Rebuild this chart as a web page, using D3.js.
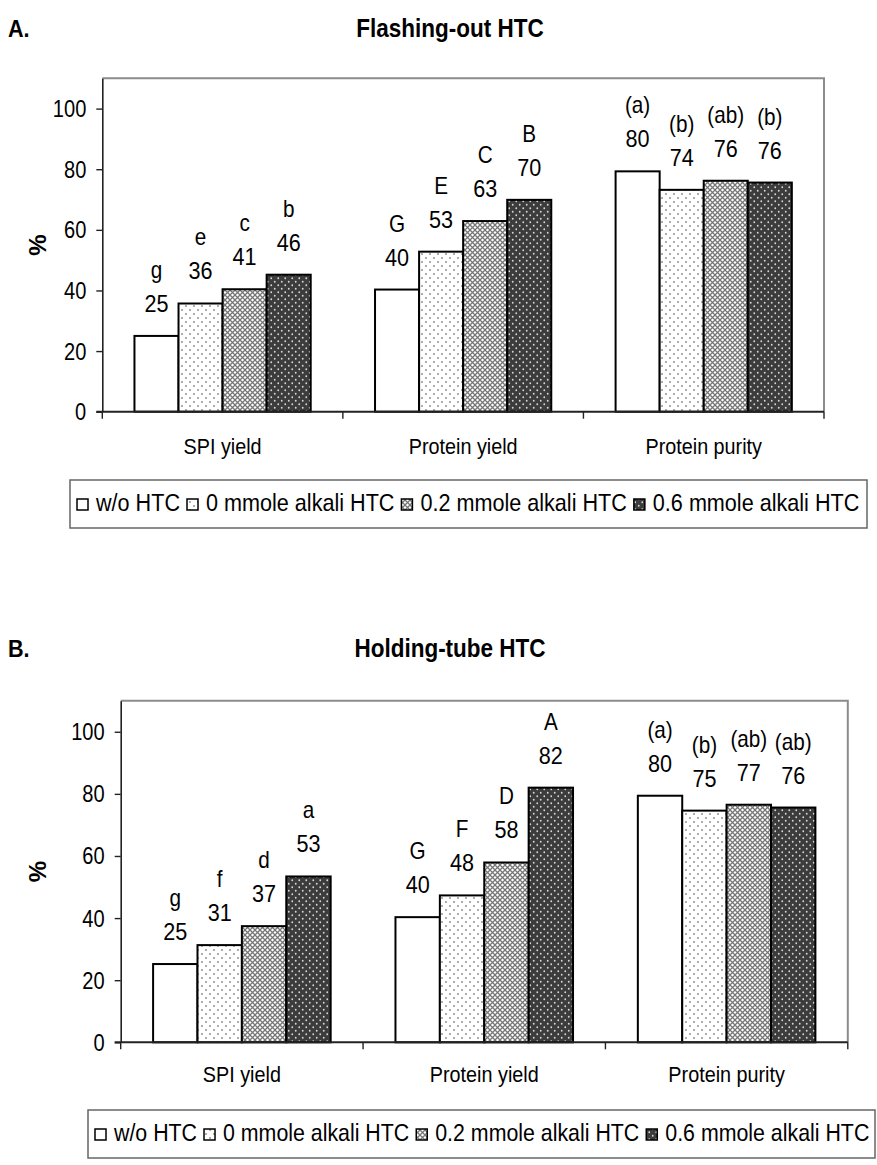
<!DOCTYPE html>
<html><head><meta charset="utf-8">
<script src="https://cdn.jsdelivr.net/npm/d3@7"></script>
<style>
html,body{margin:0;padding:0;background:#fff;}
svg text{font-family:"Liberation Sans",Arial,sans-serif;fill:#000;}
</style></head>
<body><svg id="chart" width="877" height="1165"></svg>
<script>
// ---------- data ----------
const categories = ["SPI yield", "Protein yield", "Protein purity"];
const seriesNames = ["w/o HTC", "0 mmole alkali HTC", "0.2 mmole alkali HTC", "0.6 mmole alkali HTC"];
const yTicks = [0, 20, 40, 60, 80, 100];

// Chart A: Flashing-out HTC
const aWo   = [25.0, 40.3, 79.3];
const aM0   = [35.7, 52.8, 73.2];
const aM02  = [40.4, 62.9, 76.2];
const aM06  = [45.2, 69.9, 75.6];
const aWoLab  = ["25", "40", "80"];
const aM0Lab  = ["36", "53", "74"];
const aM02Lab = ["41", "63", "76"];
const aM06Lab = ["46", "70", "76"];
const aWoSig  = ["g", "G", "(a)"];
const aM0Sig  = ["e", "E", "(b)"];
const aM02Sig = ["c", "C", "(ab)"];
const aM06Sig = ["b", "B", "(b)"];

// Chart B: Holding-tube HTC
const bWo   = [25.2, 40.3, 79.4];
const bM0   = [31.3, 47.3, 74.6];
const bM02  = [37.4, 57.9, 76.5];
const bM06  = [53.4, 82.0, 75.6];
const bWoLab  = ["25", "40", "80"];
const bM0Lab  = ["31", "48", "75"];
const bM02Lab = ["37", "58", "77"];
const bM06Lab = ["53", "82", "76"];
const bWoSig  = ["g", "G", "(a)"];
const bM0Sig  = ["f", "F", "(b)"];
const bM02Sig = ["d", "D", "(ab)"];
const bM06Sig = ["a", "A", "(ab)"];

// ---------- drawing ----------
const svg = d3.select("#chart");
const defs = svg.append("defs");
const SX = 0.9; // horizontal compression of the lettering

function dotPattern(id, bg, dot, size, r) {
  const p = defs.append("pattern").attr("id", id).attr("patternUnits", "userSpaceOnUse")
    .attr("width", size).attr("height", size);
  p.append("rect").attr("width", size).attr("height", size).attr("fill", bg);
  p.append("circle").attr("cx", size * 0.25).attr("cy", size * 0.25).attr("r", r).attr("fill", dot);
  p.append("circle").attr("cx", size * 0.75).attr("cy", size * 0.75).attr("r", r).attr("fill", dot);
}
dotPattern("pDots", "#ffffff", "#8a8a8a", 8, 0.95);
dotPattern("pDark", "#3c3c3c", "#d8d8d8", 7, 0.9);
(function () {
  const s = 5;
  const p = defs.append("pattern").attr("id", "pCross").attr("patternUnits", "userSpaceOnUse")
    .attr("width", s).attr("height", s);
  p.append("rect").attr("width", s).attr("height", s).attr("fill", "#ffffff");
  p.append("path").attr("d", `M0,0L${s},${s}M${s},0L0,${s}`).attr("stroke", "#777").attr("stroke-width", 1.3);
})();
const fills = ["#ffffff", "url(#pDots)", "url(#pCross)", "url(#pDark)"];

// place a text at (x,y) with horizontal compression
function place(sel, fx, fy, sx) {
  return sel.attr("x", 0).attr("y", 0)
    .attr("transform", (d, i) => `translate(${typeof fx === "function" ? fx(d, i) : fx},${typeof fy === "function" ? fy(d, i) : fy}) scale(${sx},1)`);
}

function drawChart(cfg) {
  const g = svg.append("g");
  const {left, right, top, bottom} = cfg;
  const y = d3.scaleLinear().domain([0, 110]).range([bottom, top]);
  const x0 = d3.scaleBand().domain(categories).range([left, right]).paddingInner(0).paddingOuter(0);
  const x1 = d3.scaleBand().domain(seriesNames).range([0, x0.bandwidth()]).paddingInner(0).paddingOuter(0.73);

  // panel letter and title
  place(g.append("text").attr("font-size", 24).attr("font-weight", "bold").text(cfg.letter), 8, cfg.titleY, SX);
  place(g.append("text").attr("text-anchor", "middle").attr("font-size", 25).attr("font-weight", "bold").text(cfg.title),
    cfg.titleX, cfg.titleY, SX);

  // plot-area frame (top and right)
  g.append("path").attr("d", `M${left},${top}H${right}V${bottom}`).attr("fill", "none")
    .attr("stroke", "#8c8c8c").attr("stroke-width", 2);

  // bars + labels
  cfg.values.forEach((vals, si) => {
    const s = seriesNames[si];
    const cxf = (d, i) => x0(categories[i]) + x1(s) + x1.bandwidth() / 2;
    g.selectAll(null).data(vals).enter().append("rect")
      .attr("x", (d, i) => x0(categories[i]) + x1(s))
      .attr("y", d => y(d))
      .attr("width", x1.bandwidth())
      .attr("height", d => y(0) - y(d))
      .attr("fill", fills[si]).attr("stroke", "#000").attr("stroke-width", 2);
    place(g.selectAll(null).data(vals).enter().append("text")
      .attr("text-anchor", "middle").attr("font-size", 24)
      .text((d, i) => cfg.labels[si][i]), cxf, d => y(d) - 24, SX);
    place(g.selectAll(null).data(vals).enter().append("text")
      .attr("text-anchor", "middle").attr("font-size", 23)
      .text((d, i) => cfg.sigs[si][i]), cxf, d => y(d) - 58, SX);
  });

  // y axis
  const ya = g.append("g").attr("transform", `translate(${left},0)`)
    .call(d3.axisLeft(y).tickValues(yTicks).tickSize(6).tickPadding(11).tickSizeOuter(0));
  ya.select(".domain").attr("stroke", "#222").attr("stroke-width", 1.6);
  ya.selectAll(".tick line").attr("stroke", "#222").attr("stroke-width", 1.4);
  ya.selectAll(".tick text").attr("font-size", 23).attr("font-family", "Liberation Sans, Arial, sans-serif")
    .attr("fill", "#000").attr("dy", null).attr("x", 0).attr("y", 0)
    .attr("transform", `translate(-16,8) scale(${SX * 0.97},1)`);

  // x axis
  g.append("line").attr("x1", left - 6).attr("x2", right).attr("y1", bottom).attr("y2", bottom)
    .attr("stroke", "#222").attr("stroke-width", 2);
  const bounds = categories.map(c => x0(c)).concat([right]);
  g.selectAll(null).data(bounds).enter().append("line")
    .attr("x1", d => d).attr("x2", d => d).attr("y1", bottom).attr("y2", bottom + 7)
    .attr("stroke", "#222").attr("stroke-width", 1.4);
  place(g.selectAll(null).data(categories).enter().append("text")
    .attr("text-anchor", "middle").attr("font-size", 22).text(d => d),
    d => x0(d) + x0.bandwidth() / 2, bottom + cfg.catDy, SX);

  // y title
  g.append("text").attr("x", 0).attr("y", 0)
    .attr("transform", `translate(46,${(top + bottom) / 2}) rotate(-90)`)
    .attr("text-anchor", "middle").attr("font-size", 24).attr("font-weight", "bold").text("%");

  // legend
  const lg = g.append("g");
  lg.append("rect").attr("x", cfg.legX).attr("y", cfg.legY).attr("width", cfg.legW).attr("height", 48)
    .attr("fill", "#fff").attr("stroke", "#666").attr("stroke-width", 1.5);
  let cx = cfg.legX + 7;
  seriesNames.forEach((s, si) => {
    lg.append("rect").attr("x", cx).attr("y", cfg.legY + 19).attr("width", 11).attr("height", 11)
      .attr("fill", fills[si]).attr("stroke", "#000").attr("stroke-width", 1.5);
    const t = place(lg.append("text").attr("font-size", 24).text(s), cx + 19, cfg.legY + 31, cfg.legSX);
    cx += 19 + t.node().getComputedTextLength() * cfg.legSX + 7;
  });
}

drawChart({
  letter: "A.", title: "Flashing-out HTC", titleX: 450, titleY: 37,
  left: 102.3, right: 824, top: 78.3, bottom: 411.7, catDy: 42,
  values: [aWo, aM0, aM02, aM06],
  labels: [aWoLab, aM0Lab, aM02Lab, aM06Lab],
  sigs: [aWoSig, aM0Sig, aM02Sig, aM06Sig],
  legX: 70, legY: 480, legW: 797, legSX: 0.9
});
drawChart({
  letter: "B.", title: "Holding-tube HTC", titleX: 450, titleY: 657,
  left: 120.7, right: 847.8, top: 700.7, bottom: 1042.3, catDy: 40,
  values: [bWo, bM0, bM02, bM06],
  labels: [bWoLab, bM0Lab, bM02Lab, bM06Lab],
  sigs: [bWoSig, bM0Sig, bM02Sig, bM06Sig],
  legX: 88, legY: 1110, legW: 787, legSX: 0.89
});
</script></body></html>
